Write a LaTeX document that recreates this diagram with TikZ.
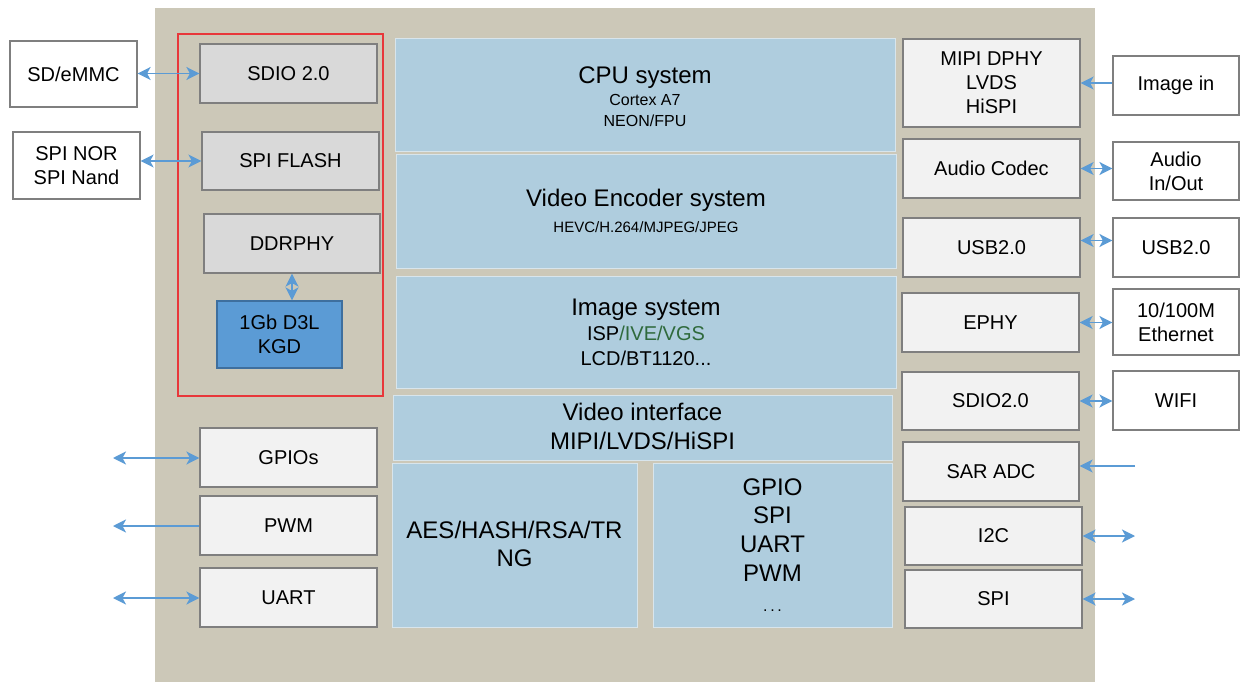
\documentclass[tikz,border=0pt]{standalone}
\usepackage{fontspec}
\setmainfont{Liberation Sans}
\usetikzlibrary{arrows.meta,fit}

\definecolor{chip}{HTML}{CCC8B8}
\definecolor{blockblue}{HTML}{AFCDDE}
\definecolor{blockedge}{HTML}{D8E5EC}
\definecolor{boxline}{HTML}{7F7F7F}
\definecolor{lightbox}{HTML}{F2F2F2}
\definecolor{midbox}{HTML}{D9D9D9}
\definecolor{dram}{HTML}{5B9BD5}
\definecolor{dramedge}{HTML}{3E6F9E}
\definecolor{linkblue}{HTML}{5B9BD5}
\definecolor{frame}{HTML}{E8373A}
\definecolor{ivegreen}{HTML}{2F6A3C}

\begin{document}
\begin{tikzpicture}[x=1pt,y=-1pt,
  pbox/.style={draw=boxline, line width=1.2pt, fill=#1, inner sep=0pt,
    align=center, font=\fontsize{20}{24}\selectfont},
  sz/.style 2 args={minimum width=#1pt, minimum height=#2pt},
  blk/.style={draw=blockedge, line width=1pt, fill=blockblue, inner sep=0pt},
  t24/.style={anchor=base, font=\fontsize{24}{28}\selectfont},
  t20/.style={anchor=base, font=\fontsize{20}{24}\selectfont},
  t16/.style={anchor=base, font=\fontsize{16}{19}\selectfont},
  t15/.style={anchor=base, font=\fontsize{15}{18}\selectfont},
  tip/.tip={Stealth[length=13pt,width=13pt,inset=3.5pt]},
  link/.style={draw=linkblue, line width=1.7pt},
]
\useasboundingbox (0,0) rectangle (1240,682);
\fill[white] (0,0) rectangle (1240,682);

% chip outline
\fill[chip] (155,8) rectangle (1095,682);

% memory group frame
\node[draw=frame, line width=1.3pt, inner sep=0pt, fit={(178,34)(383,396)}] (memgrp) {};

% external devices, left
\node[pbox=white, sz={127}{66}] (sd) at (73.5,74) {SD/eMMC};
\node[pbox=white, sz={127}{67}] (spinor) at (76.5,165.5) {SPI NOR\\SPI Nand};

% memory interfaces
\node[pbox=midbox, sz={177}{59}] (sdio) at (288.5,73.5) {SDIO 2.0};
\node[pbox=midbox, sz={177}{58}] (spiflash) at (290.5,161) {SPI FLASH};
\node[pbox=midbox, sz={176}{59}] (ddr) at (292,243.5) {DDRPHY};
\node[pbox=dram, draw=dramedge, sz={125}{67}] (kgd) at (279.5,334.5) {1Gb D3L\\KGD};

% low-speed peripherals, left
\node[pbox=lightbox, sz={177}{59}] (gpios) at (288.5,457.5) {GPIOs};
\node[pbox=lightbox, sz={177}{59}] (pwm) at (288.5,525.5) {PWM};
\node[pbox=lightbox, sz={177}{59}] (uart) at (288.5,597.5) {UART};

% core subsystems
\node[blk, fit={(395,39)(895,152)}] (cpu) {};
\node[t24] (cpuA) at (645,83.5) {CPU system};
\node[t16] (cpuB) at (645,106) {Cortex A7};
\node[t16] (cpuC) at (645,126.5) {NEON/FPU};

\node[blk, fit={(396,155)(896,268)}] (venc) {};
\node[t24] (vencA) at (646,207) {Video Encoder system};
\node[t15] (vencB) at (646,233) {HEVC/H.264/MJPEG/JPEG};

\node[blk, fit={(396,276)(896,388)}] (isys) {};
\node[t24] (isysA) at (646,315.5) {Image system};
\node[t20] (isysB) at (646,340.5) {ISP{\color{ivegreen}/IVE/VGS}};
\node[t20] (isysC) at (646,365) {LCD/BT1120...};

\node[blk, fit={(393,395)(892,460)}] (vif) {};
\node[t24] (vifA) at (642.5,420) {Video interface};
\node[t24] (vifB) at (642.5,449) {MIPI/LVDS/HiSPI};

\node[blk, fit={(392,463)(637,627)}] (sec) {};
\node[t24] (secA) at (514.5,538) {AES/HASH/RSA/TR};
\node[t24] (secB) at (514.5,566.5) {NG};

\node[blk, fit={(653,463)(892,627)}] (per) {};
\node[t24] (perA) at (772.5,495) {GPIO};
\node[t24] (perB) at (772.5,523.5) {SPI};
\node[t24] (perC) at (772.5,552.5) {UART};
\node[t24] (perD) at (772.5,581) {PWM};
\node[t16] (perE) at (772.5,611) {.\,.\,.};

% peripherals, right
\node[pbox=lightbox, sz={177}{88}] (mipi) at (991.5,83) {MIPI DPHY\\LVDS\\HiSPI};
\node[pbox=lightbox, sz={177}{59}] (codec) at (991.5,168.5) {Audio Codec};
\node[pbox=lightbox, sz={177}{59}] (usbi) at (991.5,247.5) {USB2.0};
\node[pbox=lightbox, sz={177}{59}] (ephy) at (990.5,322.5) {EPHY};
\node[pbox=lightbox, sz={177}{58}] (sdio2) at (990.5,401) {SDIO2.0};
\node[pbox=lightbox, sz={176}{59}] (sar) at (991,471.5) {SAR ADC};
\node[pbox=lightbox, sz={177}{58}] (i2c) at (993.5,536) {I2C};
\node[pbox=lightbox, sz={177}{58}] (spi) at (993.5,599) {SPI};

% external devices, right
\node[pbox=white, sz={126}{59}] (imgin) at (1176,85.5) {Image in};
\node[pbox=white, sz={126}{58}] (audio) at (1176,171) {Audio\\In/Out};
\node[pbox=white, sz={126}{59}] (usbo) at (1176,247.5) {USB2.0};
\node[pbox=white, sz={126}{66}] (eth) at (1176,322) {10/100M\\Ethernet};
\node[pbox=white, sz={126}{59}] (wifi) at (1176,400.5) {WIFI};

% free pin ends
\coordinate (pGpio) at (113,458);
\coordinate (pPwm) at (113,526);
\coordinate (pUart) at (113,598);
\coordinate (pSar) at (1135,466);
\coordinate (pI2c) at (1135,536);
\coordinate (pSpi) at (1135,599);

% connections
\draw[link, tip-tip] (sd.east |- sdio.west) -- (sdio.west);
\draw[link, line width=1.2pt, tip-tip] (spinor.east |- spiflash.west) -- (spiflash.west);
\draw[link, tip-tip] (ddr.south) -- (ddr.south |- kgd.north);

\draw[link, tip-tip] (pGpio) -- (pGpio -| gpios.west);
\draw[link, tip-] (pPwm) -- (pPwm -| pwm.west);
\draw[link, tip-tip] (pUart) -- (pUart -| uart.west);

\draw[link, -tip] (imgin.west |- mipi.east) -- (mipi.east);
\draw[link, tip-tip] (codec.east) -- (codec.east -| audio.west);
\draw[link, tip-tip] ([yshift=7pt]usbi.east) -- ([yshift=7pt]usbi.east -| usbo.west);
\draw[link, tip-tip] (ephy.east) -- (ephy.east -| eth.west);
\draw[link, tip-tip] (sdio2.east) -- (sdio2.east -| wifi.west);

\draw[link, -tip] (pSar) -- (pSar -| sar.east);
\draw[link, tip-tip] (i2c.east) -- (pI2c);
\draw[link, tip-tip] (spi.east) -- (pSpi);
\end{tikzpicture}
\end{document}
